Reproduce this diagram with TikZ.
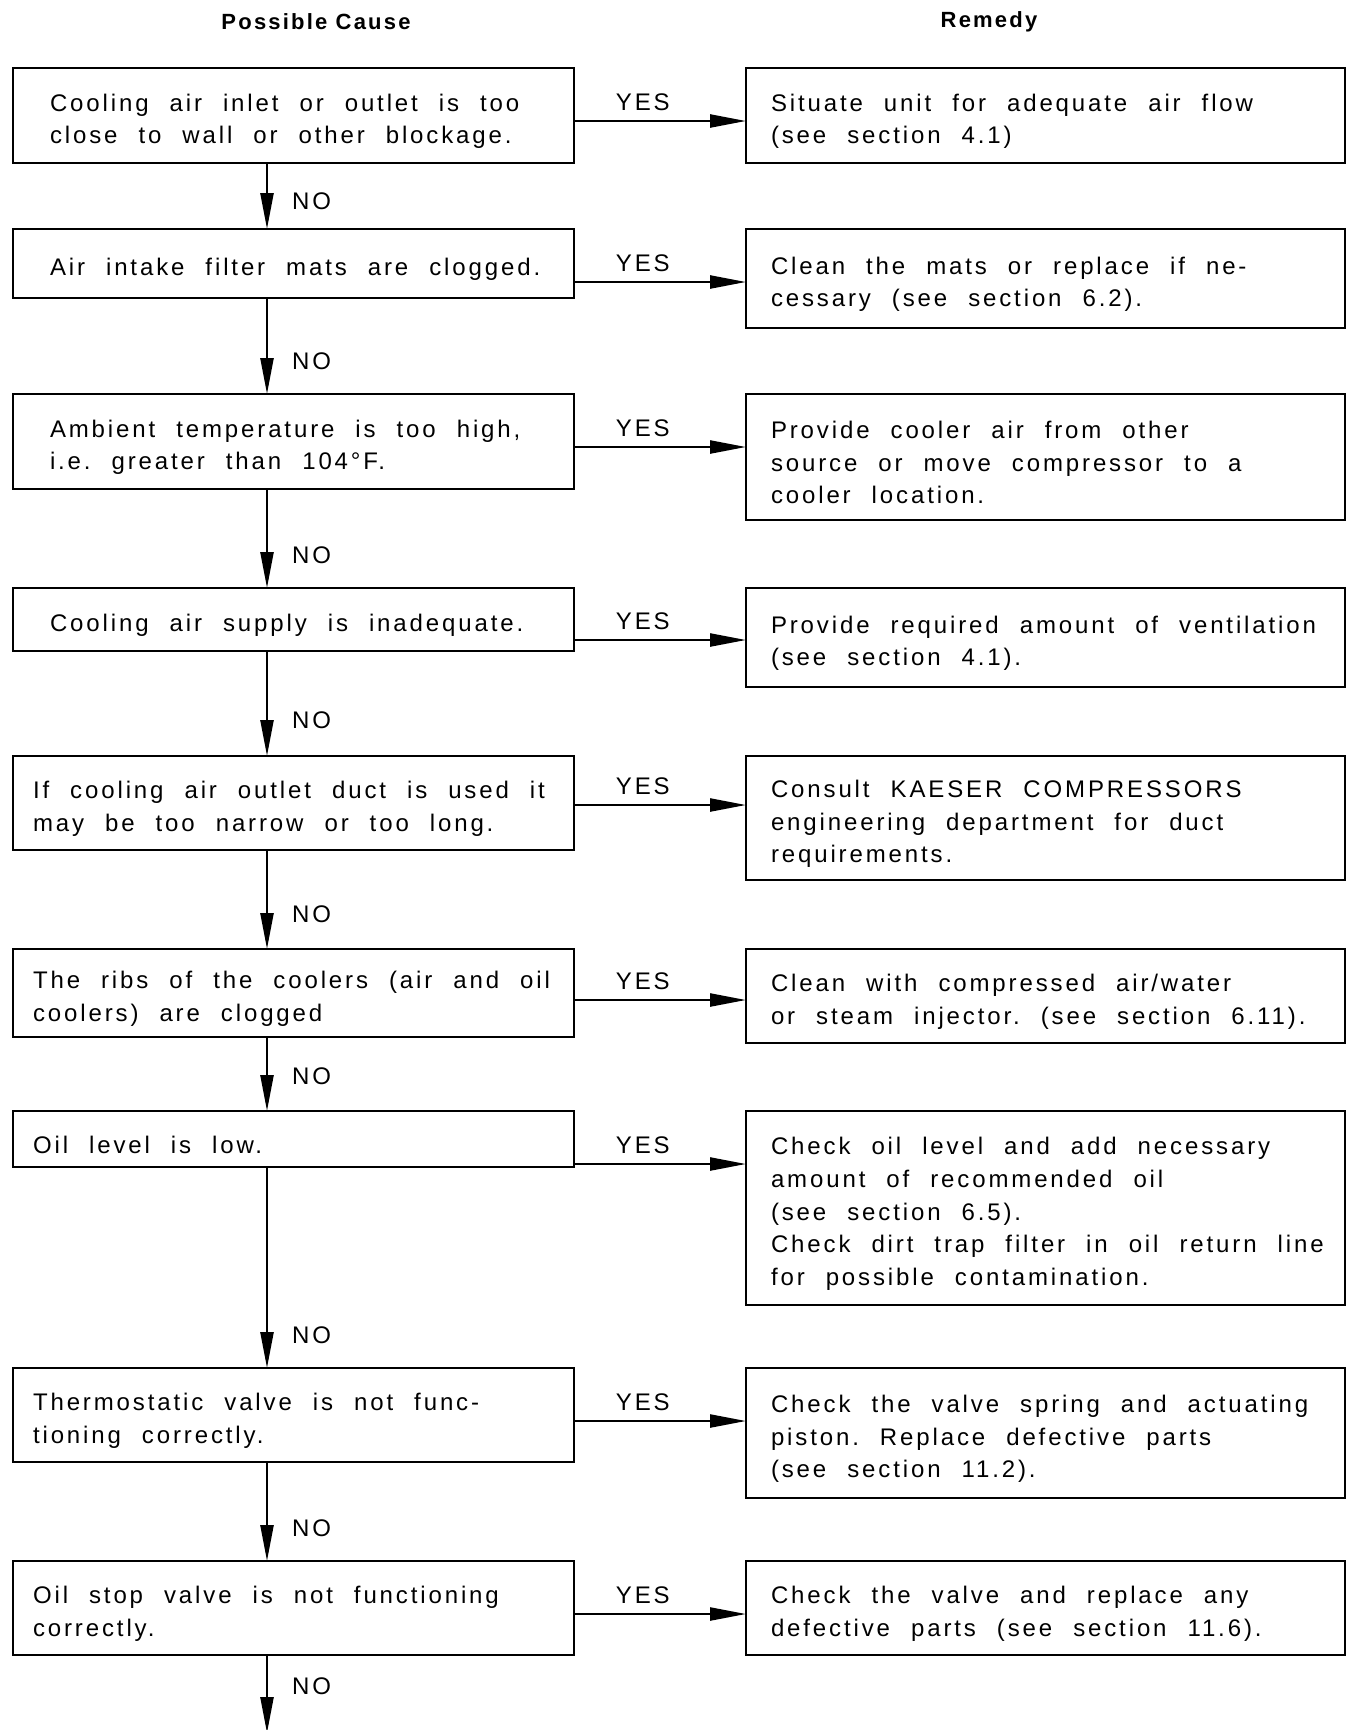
\documentclass[tikz,border=0pt]{standalone}
\usepackage{fontspec}
\setmainfont{Liberation Sans}[LetterSpace=12]
\newfontfamily\headfont{Liberation Sans}[LetterSpace=10]
\usetikzlibrary{arrows.meta,positioning}

\begin{document}
\begin{tikzpicture}[x=1pt,y=-1pt,>={Triangle[length=36pt,width=13pt]},
  every node/.style={font=\fontsize{24}{32.6}\selectfont},
  headlabel/.style={font=\headfont\bfseries\fontsize{22}{26}\selectfont},
  textbox/.style={draw,line width=2.4pt,outer sep=0pt,align=left,inner xsep=0pt,
    execute at begin node={\leftskip=#1\relax\spaceskip=21pt\relax\frenchspacing\hyphenpenalty=10000\rule{0pt}{29pt}}},
  causebox/.style={textbox=37pt,text width=561pt},
  causeboxb/.style={textbox=20pt,text width=561pt},
  remedybox/.style={textbox=25pt,text width=599pt},
  flow/.style={->,line width=2.4pt},
  yeslabel/.style={pos=0.4,above=9pt,inner sep=0pt},
  nolabel/.style={pos=1,anchor=west,inner sep=0pt,xshift=24pt,yshift=#1},nolabel/.default=33pt]
\path[use as bounding box,fill=white] (0,0) rectangle (1356,1730);
\node[headlabel] (hcause) at (316,22) {Possible Cause};
\node[headlabel] (hremedy) at (989,22) {Remedy};
\coordinate (spine) at (267,0);
\coordinate (tail) at (267,1733);
% possible causes
\node[causebox,anchor=north west,minimum height=95pt] (c1) at (13,68) {Cooling air inlet or outlet is too\\close to wall or other blockage.};
\node[causebox,below=66pt of c1.south west,anchor=north west,minimum height=69pt] (c2) {Air intake filter mats are clogged.};
\node[causebox,below=96pt of c2.south west,anchor=north west,minimum height=95pt] (c3) {Ambient temperature is too high,\\i.e. greater than 104°F.};
\node[causebox,below=99pt of c3.south west,anchor=north west,minimum height=63pt] (c4) {Cooling air supply is inadequate.};
\node[causeboxb,below=105pt of c4.south west,anchor=north west,minimum height=94pt] (c5) {If cooling air outlet duct is used it\\may be too narrow or too long.};
\node[causeboxb,below=99pt of c5.south west,anchor=north west,minimum height=88pt] (c6) {The ribs of the coolers (air and oil\\coolers) are clogged};
\node[causeboxb,below=74pt of c6.south west,anchor=north west,minimum height=56pt] (c7) {Oil level is low.};
\node[causeboxb,below=201pt of c7.south west,anchor=north west,minimum height=94pt] (c8) {Thermostatic valve is not func-\\tioning correctly.};
\node[causeboxb,below=99pt of c8.south west,anchor=north west,minimum height=94pt] (c9) {Oil stop valve is not functioning\\correctly.};
% remedies
\node[remedybox,right=172pt of c1.north east,anchor=north west,minimum height=95pt] (r1) {Situate unit for adequate air flow\\(see section 4.1)};
\node[remedybox,right=172pt of c2.north east,anchor=north west,minimum height=99pt] (r2) {Clean the mats or replace if ne-\\cessary (see section 6.2).};
\node[remedybox,right=172pt of c3.north east,anchor=north west,minimum height=126pt] (r3) {Provide cooler air from other\\source or move compressor to a\\cooler location.};
\node[remedybox,right=172pt of c4.north east,anchor=north west,minimum height=99pt] (r4) {Provide required amount of ventilation\\(see section 4.1).};
\node[remedybox,right=172pt of c5.north east,anchor=north west,minimum height=124pt] (r5) {Consult KAESER COMPRESSORS\\engineering department for duct\\requirements.};
\node[remedybox,right=172pt of c6.north east,anchor=north west,minimum height=94pt] (r6) {Clean with compressed air/water\\or steam injector. (see section 6.11).};
\node[remedybox,right=172pt of c7.north east,anchor=north west,minimum height=194pt] (r7) {Check oil level and add necessary\\amount of recommended oil\\(see section 6.5).\\Check dirt trap filter in oil return line\\for possible contamination.};
\node[remedybox,right=172pt of c8.north east,anchor=north west,minimum height=130pt] (r8) {Check the valve spring and actuating\\piston. Replace defective parts\\(see section 11.2).};
\node[remedybox,right=172pt of c9.north east,anchor=north west,minimum height=94pt] (r9) {Check the valve and replace any\\defective parts (see section 11.6).};
% yes branches
\draw[flow] ([yshift=-53pt]c1.north east) -- node[yeslabel]{YES} ([yshift=-53pt]r1.north west);
\draw[flow] ([yshift=-53pt]c2.north east) -- node[yeslabel]{YES} ([yshift=-53pt]r2.north west);
\draw[flow] ([yshift=-53pt]c3.north east) -- node[yeslabel]{YES} ([yshift=-53pt]r3.north west);
\draw[flow] ([yshift=-52pt]c4.north east) -- node[yeslabel]{YES} ([yshift=-52pt]r4.north west);
\draw[flow] ([yshift=-49pt]c5.north east) -- node[yeslabel]{YES} ([yshift=-49pt]r5.north west);
\draw[flow] ([yshift=-51pt]c6.north east) -- node[yeslabel]{YES} ([yshift=-51pt]r6.north west);
\draw[flow] ([yshift=-53pt]c7.north east) -- node[yeslabel]{YES} ([yshift=-53pt]r7.north west);
\draw[flow] ([yshift=-53pt]c8.north east) -- node[yeslabel]{YES} ([yshift=-53pt]r8.north west);
\draw[flow] ([yshift=-53pt]c9.north east) -- node[yeslabel]{YES} ([yshift=-53pt]r9.north west);
% no branches
\draw[flow] (c1.south -| spine) -- node[nolabel=28pt]{NO} (c2.north -| spine);
\draw[flow] (c2.south -| spine) -- node[nolabel]{NO} (c3.north -| spine);
\draw[flow] (c3.south -| spine) -- node[nolabel]{NO} (c4.north -| spine);
\draw[flow] (c4.south -| spine) -- node[nolabel=36pt]{NO} (c5.north -| spine);
\draw[flow] (c5.south -| spine) -- node[nolabel=35pt]{NO} (c6.north -| spine);
\draw[flow] (c6.south -| spine) -- node[nolabel=35pt]{NO} (c7.north -| spine);
\draw[flow] (c7.south -| spine) -- node[nolabel]{NO} (c8.north -| spine);
\draw[flow] (c8.south -| spine) -- node[nolabel]{NO} (c9.north -| spine);
\draw[flow] (c9.south -| spine) -- node[nolabel=47pt]{NO} (tail);
\end{tikzpicture}
\end{document}
